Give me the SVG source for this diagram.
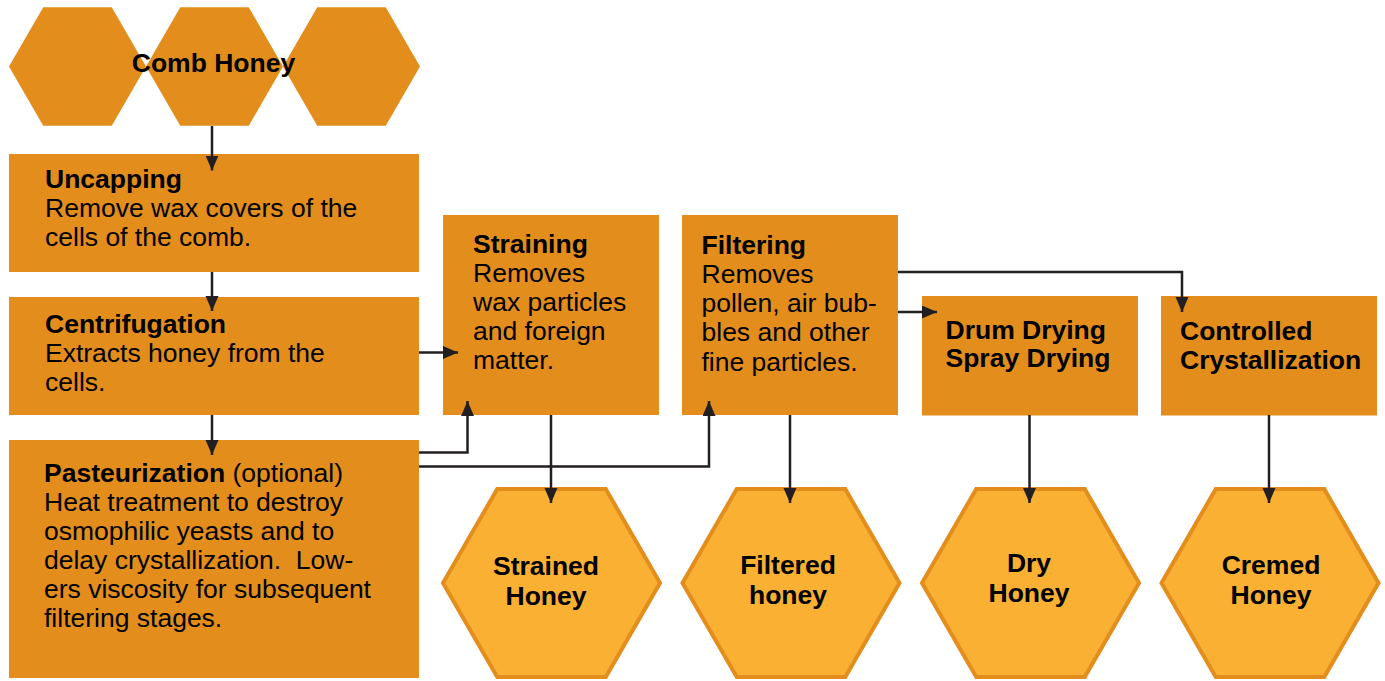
<svg xmlns="http://www.w3.org/2000/svg" width="1385" height="681" viewBox="0 0 1385 681">
<style>
.box{fill:#E38D1D}
.hexA{fill:#E38D1D}
.hexB{fill:#F9B033;stroke:#E38D1D;stroke-width:4;stroke-linejoin:miter}
text{font-family:"Liberation Sans",Arial,sans-serif;font-size:26.5px;fill:#000}
.b{font-weight:bold}
.c{text-anchor:middle;font-weight:bold}
.conn{fill:none;stroke:#231F20;stroke-width:2.5}
</style>
<defs>
<marker id="ah" markerUnits="userSpaceOnUse" markerWidth="16" markerHeight="14" refX="15" refY="6.5" orient="auto">
<path d="M0,0 L15,6.5 L0,13 Z" fill="#231F20"/>
</marker>
</defs>
<rect width="1385" height="681" fill="#fff"/>
<g id="comb-honey">
<polygon class="hexA" points="9,66.5 43.25,7.2 111.75,7.2 146,66.5 111.75,125.8 43.25,125.8"/>
<polygon class="hexA" points="146,66.5 180.25,7.2 248.75,7.2 283,66.5 248.75,125.8 180.25,125.8"/>
<polygon class="hexA" points="283,66.5 317.25,7.2 385.75,7.2 420,66.5 385.75,125.8 317.25,125.8"/>
<text class="c" x="213.5" y="72">Comb Honey</text>
</g>
<g id="uncapping">
<rect class="box" x="9" y="154" width="410" height="118"/>
<text x="45" y="188"><tspan class="b">Uncapping</tspan><tspan x="45" dy="29">Remove wax covers of the</tspan><tspan x="45" dy="29">cells of the comb.</tspan></text>
</g>
<g id="centrifugation">
<rect class="box" x="9" y="297" width="410" height="118"/>
<text x="45" y="333"><tspan class="b">Centrifugation</tspan><tspan x="45" dy="29">Extracts honey from the</tspan><tspan x="45" dy="29">cells.</tspan></text>
</g>
<g id="pasteurization">
<rect class="box" x="9" y="440" width="410" height="238"/>
<text x="44" y="482"><tspan class="b">Pasteurization</tspan><tspan> (optional)</tspan><tspan x="44" dy="29">Heat treatment to destroy</tspan><tspan x="44" dy="29">osmophilic yeasts and to</tspan><tspan x="44" dy="29">delay crystallization.&#160; Low-</tspan><tspan x="44" dy="29">ers viscosity for subsequent</tspan><tspan x="44" dy="29">filtering stages.</tspan></text>
</g>
<g id="straining">
<rect class="box" x="443" y="215" width="216" height="200"/>
<text x="473" y="253"><tspan class="b">Straining</tspan><tspan x="473" dy="29">Removes</tspan><tspan x="473" dy="29">wax particles</tspan><tspan x="473" dy="29">and foreign</tspan><tspan x="473" dy="29">matter.</tspan></text>
</g>
<g id="filtering">
<rect class="box" x="682" y="215" width="216" height="200"/>
<text x="701.5" y="253.5"><tspan class="b">Filtering</tspan><tspan x="701.5" dy="29.3">Removes</tspan><tspan x="701.5" dy="29.3">pollen, air bub-</tspan><tspan x="701.5" dy="29.3">bles and other</tspan><tspan x="701.5" dy="29.3">fine particles.</tspan></text>
</g>
<g id="drying">
<rect class="box" x="922" y="296" width="216" height="119.5"/>
<text class="b" x="945.5" y="339"><tspan>Drum Drying</tspan><tspan x="945.5" dy="28">Spray Drying</tspan></text>
</g>
<g id="crystallization">
<rect class="box" x="1161" y="296" width="216" height="119.5"/>
<text class="b" x="1180" y="340"><tspan>Controlled</tspan><tspan x="1180" dy="28.5">Crystallization</tspan></text>
</g>
<g id="strained-honey">
<polygon class="hexB" points="443,583 497.25,489 605.75,489 660,583 605.75,677 497.25,677"/>
<text class="c" x="546" y="575"><tspan>Strained</tspan><tspan x="546" dy="30">Honey</tspan></text>
</g>
<g id="filtered-honey">
<polygon class="hexB" points="682.5,583 736.75,489 845.25,489 899.5,583 845.25,677 736.75,677"/>
<text class="c" x="788" y="573.5"><tspan>Filtered</tspan><tspan x="788" dy="30">honey</tspan></text>
</g>
<g id="dry-honey">
<polygon class="hexB" points="922,583 976.25,489 1084.75,489 1139,583 1084.75,677 976.25,677"/>
<text class="c" x="1029" y="572"><tspan>Dry</tspan><tspan x="1029" dy="30">Honey</tspan></text>
</g>
<g id="cremed-honey">
<polygon class="hexB" points="1161.5,583 1215.75,489 1324.25,489 1378.5,583 1324.25,677 1215.75,677"/>
<text class="c" x="1271" y="573.5"><tspan>Cremed</tspan><tspan x="1271" dy="30">Honey</tspan></text>
</g>
<g id="connectors">
<path class="conn" marker-end="url(#ah)" d="M212,126 V170.5"/>
<path class="conn" marker-end="url(#ah)" d="M212,272 V311"/>
<path class="conn" marker-end="url(#ah)" d="M212,415 V455"/>
<path class="conn" marker-end="url(#ah)" d="M419,352.5 H458"/>
<path class="conn" marker-end="url(#ah)" d="M419,452.5 H467.5 V401"/>
<path class="conn" marker-end="url(#ah)" d="M419,466.5 H709 V401"/>
<path class="conn" marker-end="url(#ah)" d="M551,415 V503"/>
<path class="conn" marker-end="url(#ah)" d="M790,415 V503"/>
<path class="conn" marker-end="url(#ah)" d="M898,312 H937"/>
<path class="conn" marker-end="url(#ah)" d="M898,272 H1182 V312"/>
<path class="conn" marker-end="url(#ah)" d="M1029.5,415 V503"/>
<path class="conn" marker-end="url(#ah)" d="M1269,415 V503"/>
</g>
</svg>
